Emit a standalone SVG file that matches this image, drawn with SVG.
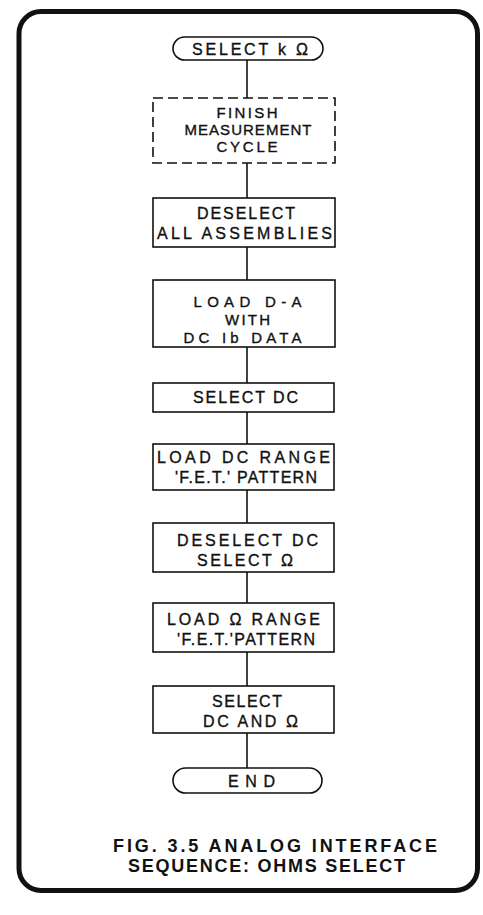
<svg xmlns="http://www.w3.org/2000/svg" width="483" height="915" viewBox="0 0 483 915">
<style>
.bg{fill:#ffffff}
.frame{fill:none;stroke:#111;stroke-width:5}
.box{fill:#fff;stroke:#111;stroke-width:1.6}
.dash{fill:#fff;stroke:#111;stroke-width:1.6;stroke-dasharray:10 5}
.t{font-family:"Liberation Sans",Arial,sans-serif;font-size:16px;fill:#111;stroke:#111;stroke-width:0.35;text-anchor:middle}
.s{font-size:15px}
.cap{font-family:"Liberation Sans",Arial,sans-serif;font-size:18px;font-weight:bold;fill:#111;text-anchor:middle}
.conn line{stroke:#111;stroke-width:1.6}
</style>
<rect class="bg" x="0" y="0" width="483" height="915"/>
<rect class="frame" x="19" y="11.5" width="458.5" height="879" rx="22"/>
<g class="conn" id="connectors">
<line x1="247" y1="60" x2="247" y2="98"/>
<line x1="247" y1="163" x2="247" y2="198"/>
<line x1="247" y1="247" x2="247" y2="280"/>
<line x1="247" y1="347" x2="247" y2="383"/>
<line x1="247" y1="412" x2="247" y2="444"/>
<line x1="247" y1="490" x2="247" y2="523"/>
<line x1="247" y1="572" x2="247" y2="603"/>
<line x1="247" y1="652" x2="247" y2="686"/>
<line x1="247" y1="733" x2="247" y2="768"/>
</g>
<g id="start">
<rect class="box" x="173" y="37" width="150" height="23" rx="11.5"/>
<text class="t" x="250" y="54.5" textLength="116" lengthAdjust="spacing">SELECT k Ω</text>
</g>
<g id="finish">
<rect class="dash" x="153" y="98" width="182" height="65"/>
<text class="t s" x="247" y="118" textLength="61" lengthAdjust="spacing">FINISH</text>
<text class="t s" x="248" y="135" textLength="127" lengthAdjust="spacing">MEASUREMENT</text>
<text class="t s" x="247" y="152" textLength="61" lengthAdjust="spacing">CYCLE</text>
</g>
<g id="deselect-all">
<rect class="box" x="153" y="198" width="182" height="49"/>
<text class="t" x="246" y="219" textLength="98" lengthAdjust="spacing">DESELECT</text>
<text class="t" x="244.5" y="239" textLength="175" lengthAdjust="spacing">ALL ASSEMBLIES</text>
</g>
<g id="load-da">
<rect class="box" x="153" y="280" width="182" height="67"/>
<text class="t s" x="247.5" y="307" textLength="108" lengthAdjust="spacing">LOAD D-A</text>
<text class="t s" x="247.5" y="325" textLength="45" lengthAdjust="spacing">WITH</text>
<text class="t s" x="242.5" y="343" textLength="118" lengthAdjust="spacing">DC Ib DATA</text>
</g>
<g id="select-dc">
<rect class="box" x="153" y="383" width="181" height="29"/>
<text class="t" x="245.5" y="403" textLength="105" lengthAdjust="spacing">SELECT DC</text>
</g>
<g id="load-dc-range">
<rect class="box" x="153" y="444" width="181" height="46"/>
<text class="t" x="243.5" y="463" textLength="173" lengthAdjust="spacing">LOAD DC RANGE</text>
<text class="t" x="246" y="483" textLength="142" lengthAdjust="spacing">'F.E.T.' PATTERN</text>
</g>
<g id="deselect-dc">
<rect class="box" x="153" y="523" width="181" height="49"/>
<text class="t" x="247.5" y="546" textLength="141" lengthAdjust="spacing">DESELECT DC</text>
<text class="t" x="245" y="566" textLength="96" lengthAdjust="spacing">SELECT Ω</text>
</g>
<g id="load-ohm-range">
<rect class="box" x="153" y="603" width="181" height="49"/>
<text class="t" x="243.5" y="625" textLength="153" lengthAdjust="spacing">LOAD Ω RANGE</text>
<text class="t" x="246" y="645" textLength="138" lengthAdjust="spacing">'F.E.T.'PATTERN</text>
</g>
<g id="select-dc-ohm">
<rect class="box" x="153" y="686" width="181" height="47"/>
<text class="t" x="247" y="707" textLength="70" lengthAdjust="spacing">SELECT</text>
<text class="t" x="250.5" y="727" textLength="95" lengthAdjust="spacing">DC AND Ω</text>
</g>
<g id="end">
<rect class="box" x="173" y="768" width="149" height="25" rx="12.5"/>
<text class="t" x="251.5" y="786.5" textLength="47" lengthAdjust="spacing">END</text>
</g>
<g id="caption">
<text class="cap" x="275" y="852" textLength="324" lengthAdjust="spacing">FIG. 3.5  ANALOG INTERFACE</text>
<text class="cap" x="266.5" y="872" textLength="277" lengthAdjust="spacing">SEQUENCE: OHMS SELECT</text>
</g>
</svg>
